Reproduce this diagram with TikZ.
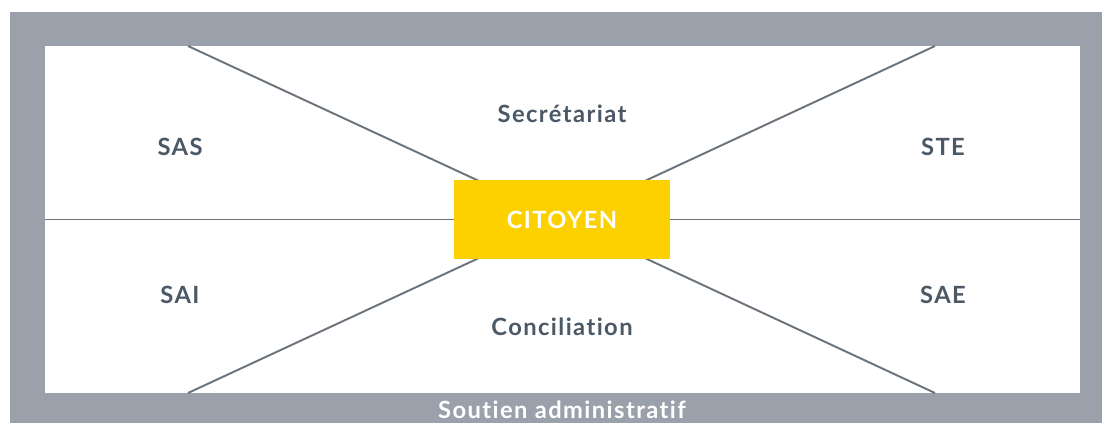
\documentclass[tikz,border=0pt]{standalone}
\usepackage{fontspec}
\setmainfont{Lato}
\newfontfamily\labelfont[LetterSpace=6,Ligatures={NoCommon}]{Lato}
\usetikzlibrary{math}
\usetikzlibrary{backgrounds}
\usetikzlibrary{positioning}

\definecolor{framegray}{HTML}{9AA1AB}
\definecolor{linegray}{HTML}{6B737C}
\definecolor{textgray}{HTML}{4B5865}
\definecolor{citoyenyellow}{HTML}{FDD000}

\tikzset{
  service/.style={text=textgray, font=\labelfont\fontsize{13.5}{16}\selectfont\bfseries},
  spoke/.style={draw=linegray, line width=1.1pt},
}

\begin{document}
\begin{tikzpicture}[x=0.02cm,y=-0.02cm]

  \tikzmath{
    \W = 1102; % picture width
    \H = 423;  % picture height
    \xl = 45;   % inner area left
    \xr = 1080; % inner area right
    \yt = 46;   % inner area top
    \yb = 393;  % inner area bottom
  }

  \useasboundingbox (0,0) rectangle (\W,\H);

  % citizen in the middle
  \node[fill=citoyenyellow, minimum width=4.32cm, minimum height=1.58cm,
        text=white, font=\labelfont\fontsize{13.5}{16}\selectfont\bfseries]
        (cit) at (562,219.5) {CITOYEN};

  % ends of the spokes on the frame
  \coordinate (TL) at (188,\yt);
  \coordinate (TR) at (935,\yt);
  \coordinate (BL) at (188,\yb);
  \coordinate (BR) at (935,\yb);
  \coordinate (ML) at (\xl,219.5);
  \coordinate (MR) at (\xr,219.5);

  \begin{scope}[on background layer]
    % frame and inner area
    \fill[framegray] (10,12) rectangle (\W,\H);
    \fill[white] (\xl,\yt) rectangle (\xr,\yb);

    % spokes
    \draw[spoke] (TL) -- (cit.center);
    \draw[spoke] (TR) -- (cit.center);
    \draw[spoke] (BL) -- (cit.center);
    \draw[spoke] (BR) -- (cit.center);
    \draw[spoke] (ML) -- (MR);
  \end{scope}

  % services
  \node[service] (sec) at (562,114) {Secrétariat};
  \node[service] (con) at (562,327) {Conciliation};
  \node[service] (sas) at (180,147) {SAS};
  \node[service] (ste) at (943,147) {STE};
  \node[service] (sai) at (180,295) {SAI};
  \node[service] (sae) at (943,295) {SAE};

  % administrative support
  \node[text=white, font=\labelfont\fontsize{13.5}{16}\selectfont\bfseries]
        (sout) at (562,410) {Soutien administratif};

\end{tikzpicture}
\end{document}
